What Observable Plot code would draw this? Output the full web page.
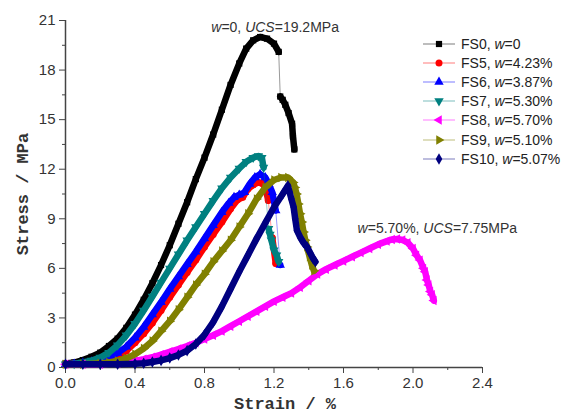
<!DOCTYPE html>
<html><head><meta charset="utf-8">
<script src="https://cdn.jsdelivr.net/npm/d3@7"></script>
<script src="https://cdn.jsdelivr.net/npm/@observablehq/plot@0.6"></script>
<style>
html,body{margin:0;padding:0;background:#fff;}
#wrap{position:relative;width:568px;height:414px;overflow:hidden;}
#legend{position:absolute;left:423px;top:34px;font:14px "Liberation Sans",Arial,sans-serif;color:#222;}
.row{display:flex;align-items:center;height:19.2px;white-space:nowrap;}
.row svg{margin-right:4px;display:block;}
g[aria-label="x-axis label"] text, g[aria-label="y-axis label"] text{font-family:"Liberation Mono","Courier New",monospace;font-weight:bold;font-size:17px;fill:#333;}
</style></head><body><div id="wrap"><div id="legend"></div></div>
<script>
// ---- data ----
const seriesNames = ["FS0","FS5","FS6","FS7","FS8","FS9","FS10"];
const waterContents = ["0","4.23%","3.87%","5.30%","5.70%","5.10%","5.07%"];

const fs0Strain = [0,0.05,0.1,0.15,0.2,0.25,0.3,0.35,0.4,0.45,0.5,0.55,0.6,0.65,0.7,0.75,0.8,0.85,0.9,0.95,1.0,1.04,1.08,1.12,1.16,1.2,1.227,1.236,1.25,1.265,1.284,1.304,1.309,1.317];
const fs0Stress = [0.25,0.3,0.45,0.65,0.9,1.3,1.75,2.4,3.2,4.1,5.1,6.2,7.4,8.7,10.0,11.4,12.7,14.1,15.6,17.1,18.4,19.3,19.8,20.0,19.9,19.6,19.1,16.4,16.2,15.9,15.4,14.75,14.0,13.2];

const fs5Strain = [0,0.05,0.1,0.15,0.2,0.25,0.3,0.35,0.4,0.45,0.5,0.55,0.6,0.65,0.7,0.75,0.8,0.85,0.9,0.95,0.99,1.02,1.05,1.08,1.11,1.13,1.15,1.167,1.19,1.21];
const fs5Stress = [0.2,0.22,0.25,0.3,0.38,0.5,0.7,1.0,1.5,2.05,2.7,3.45,4.25,5.0,5.75,6.5,7.3,8.05,8.8,9.6,10.15,10.3,10.8,11.05,11.2,11.15,10.9,10.1,7.85,6.3];

const fs6Strain = [0,0.05,0.1,0.15,0.2,0.25,0.3,0.35,0.4,0.45,0.5,0.55,0.6,0.65,0.7,0.75,0.8,0.85,0.9,0.94,0.97,1.0,1.03,1.06,1.09,1.12,1.15,1.17,1.19,1.21,1.236];
const fs6Stress = [0.2,0.22,0.27,0.35,0.48,0.65,0.88,1.25,1.8,2.45,3.2,3.95,4.75,5.5,6.25,7.0,7.8,8.6,9.4,9.95,10.3,10.45,10.6,11.1,11.5,11.7,11.5,11.1,10.6,9.5,6.2];

const fs7Strain = [0,0.05,0.1,0.15,0.2,0.25,0.3,0.35,0.4,0.45,0.5,0.55,0.6,0.65,0.7,0.75,0.8,0.85,0.9,0.95,1.0,1.04,1.08,1.11,1.13,1.14,1.169,1.177,1.185,1.2,1.215,1.227];
const fs7Stress = [0.2,0.22,0.3,0.42,0.6,0.9,1.35,1.95,2.65,3.45,4.3,5.15,6.0,6.85,7.7,8.5,9.3,10.1,10.85,11.5,12.05,12.45,12.7,12.8,12.7,12.1,8.4,8.05,7.7,7.1,6.8,6.4];

const fs8Strain = [0,0.1,0.2,0.3,0.35,0.4,0.45,0.5,0.55,0.6,0.65,0.7,0.75,0.8,0.85,0.9,0.95,1.0,1.05,1.1,1.15,1.2,1.25,1.3,1.35,1.4,1.45,1.5,1.55,1.6,1.65,1.7,1.75,1.8,1.85,1.88,1.91,1.94,1.97,2.0,2.02,2.04,2.06,2.07,2.08,2.09,2.1,2.11,2.12];
const fs8Stress = [0.2,0.2,0.2,0.25,0.3,0.4,0.5,0.62,0.78,0.95,1.12,1.3,1.5,1.72,1.95,2.2,2.5,2.8,3.1,3.4,3.7,4.0,4.25,4.5,4.85,5.25,5.65,5.95,6.2,6.45,6.7,6.95,7.2,7.45,7.65,7.75,7.78,7.72,7.55,7.2,6.8,6.5,6.0,5.8,5.3,5.0,4.6,4.4,4.05];

const fs9Strain = [0,0.1,0.2,0.25,0.3,0.35,0.4,0.45,0.5,0.55,0.6,0.65,0.7,0.75,0.8,0.85,0.9,0.95,1.0,1.05,1.1,1.15,1.2,1.24,1.28,1.31,1.32,1.33,1.34,1.35,1.36,1.37,1.38,1.39,1.405,1.418,1.43];
const fs9Stress = [0.2,0.2,0.25,0.3,0.4,0.55,0.8,1.15,1.6,2.2,2.8,3.5,4.25,5.0,5.65,6.4,7.05,7.7,8.5,9.3,10.2,10.9,11.35,11.5,11.5,11.2,10.9,10.5,9.9,9.3,8.8,8.2,7.7,7.3,6.7,6.2,5.85];

const fs10Strain = [0,0.1,0.2,0.3,0.4,0.45,0.5,0.55,0.6,0.65,0.7,0.75,0.8,0.85,0.9,0.95,1.0,1.05,1.1,1.15,1.2,1.25,1.28,1.29,1.3,1.313,1.322,1.332,1.35,1.37,1.39,1.41,1.425,1.438];
const fs10Stress = [0.2,0.2,0.2,0.2,0.22,0.26,0.33,0.43,0.57,0.76,1.02,1.42,1.98,2.75,3.7,4.75,5.8,6.8,7.8,8.75,9.7,10.5,11.0,10.6,10.2,9.7,9.0,8.3,7.9,7.55,7.3,6.9,6.6,6.4];

const annotatedSeries = ["FS0","FS8"];
const annotatedUCS = ["19.2","7.75"];

const xTicks = [0,0.4,0.8,1.2,1.6,2.0,2.4];
const xMinorTicks = [0.2,0.6,1.0,1.4,1.8,2.2];
const yTicks = [0,3,6,9,12,15,18,21];
const yMinorTicks = [1.5,4.5,7.5,10.5,13.5,16.5,19.5];

// ---- styling ----
const colors = ["#000000","#ff0000","#0000ff","#008080","#ff00ff","#808000","#000080"];
const sqrt3 = Math.sqrt(3);
const triDown = {draw(c, s){const y=-Math.sqrt(s/(sqrt3*3)); c.moveTo(0,-2*y); c.lineTo(-sqrt3*y,y); c.lineTo(sqrt3*y,y); c.closePath();}};
const triLeft = {draw(c, s){const y=-Math.sqrt(s/(sqrt3*3)); c.moveTo(2*y,0); c.lineTo(-y,-sqrt3*y); c.lineTo(-y,sqrt3*y); c.closePath();}};
const triRight = {draw(c, s){const y=-Math.sqrt(s/(sqrt3*3)); c.moveTo(-2*y,0); c.lineTo(y,-sqrt3*y); c.lineTo(y,sqrt3*y); c.closePath();}};
const symbols = [d3.symbolSquare, d3.symbolCircle, d3.symbolTriangle, triDown, triLeft, triRight, d3.symbolDiamond];

const W = 568, H = 414, ML = 65, MR = 86, MT = 20, MB = 47;
const strains = [fs0Strain,fs5Strain,fs6Strain,fs7Strain,fs8Strain,fs9Strain,fs10Strain];
const stresses = [fs0Stress,fs5Stress,fs6Stress,fs7Stress,fs8Stress,fs9Stress,fs10Stress];

const series = seriesNames.map((name, i) => ({
  name, color: colors[i], symbol: symbols[i],
  rows: strains[i].map((x, j) => ({x, y: stresses[i][j]}))
}));

// band (overlapping markers look): break where neighbouring points jump far apart on screen
const kx = (W-ML-MR)/2.4, ky = (H-MT-MB)/21;
function bandRows(rows){
  const out = [];
  rows.forEach((r, j) => {
    if (j > 0) {
      const p = rows[j-1];
      const d = Math.hypot((r.x-p.x)*kx, (r.y-p.y)*ky);
      if (d > 33) out.push({x: (r.x+p.x)/2, y: NaN});
    }
    out.push(r);
  });
  return out;
}

const marks = [
  Plot.ruleX([0], {stroke:"#444", strokeWidth:1.5}),
  Plot.ruleY([0], {stroke:"#444", strokeWidth:1.5}),
  Plot.axisX(xTicks, {tickSize:6, tickPadding:4, tickFormat:d3.format(".1f"), label:"Strain / %", labelAnchor:"center", labelOffset:41, labelArrow:"none", fill:"#333", stroke:"#444"}),
  Plot.axisX(xMinorTicks, {tickSize:3, tickFormat:() => "", label:null, stroke:"#444"}),
  Plot.axisY(yTicks, {tickSize:6, tickPadding:4, tickFormat:d => String(d), label:"Stress / MPa", labelAnchor:"center", labelOffset:50, labelArrow:"none", fill:"#333", stroke:"#444"}),
  Plot.axisY(yMinorTicks, {tickSize:3, tickFormat:() => "", label:null, stroke:"#444"})
];
series.forEach(s => {
  marks.push(Plot.line(s.rows, {x:"x", y:"y", stroke:s.color, strokeWidth:1, strokeOpacity:0.4}));
  marks.push(Plot.line(bandRows(s.rows), {x:"x", y:"y", stroke:s.color, strokeWidth:6.5, strokeLinejoin:"round", strokeLinecap:"round"}));
  marks.push(Plot.dot(s.rows, {x:"x", y:"y", symbol:s.symbol, fill:s.color, r:3.5}));
});
const ann = annotatedSeries.map((n, k) => {
  const i = seriesNames.indexOf(n);
  const top = series[i].rows.reduce((a, b) => (b.y > a.y ? b : a));
  return {x: top.x, y: top.y, text: `*w*=${waterContents[i]}, *UCS*=${annotatedUCS[k]}MPa`, k};
});
marks.push(Plot.text(ann.filter(a => a.k === 0), {x:"x", y:"y", text:"text", dx:15, dy:-10, fontSize:14, fill:"#333", className:"ann"}));
marks.push(Plot.text(ann.filter(a => a.k === 1), {x:"x", y:"y", text:"text", dx:40, dy:-10, fontSize:14, fill:"#333", className:"ann"}));

const svg = Plot.plot({
  width: W, height: H, marginLeft: ML, marginRight: MR, marginTop: MT, marginBottom: MB,
  x: {domain: [0, 2.4]}, y: {domain: [0, 21]},
  style: {fontFamily: '"Liberation Sans", Arial, sans-serif', fontSize: "15px", color: "#333", background: "white", overflow: "visible"},
  marks
});
document.getElementById("wrap").prepend(svg);
d3.select(svg).selectAll('g[aria-label="x-axis label"] text').attr("dx", 11);

// italic parts of the annotations
d3.select(svg).selectAll("g.ann text").each(function(){
  const parts = this.textContent.split("*");
  this.textContent = "";
  parts.forEach((p, j) => { if (p) { const t = d3.select(this).append("tspan").text(p); if (j % 2) t.attr("font-style", "italic"); } });
});

// legend
const legend = d3.select("#legend");
series.forEach((s, i) => {
  const row = legend.append("div").attr("class", "row");
  const g = row.append("svg").attr("width", 34).attr("height", 14);
  g.append("line").attr("x1", 0).attr("x2", 32).attr("y1", 7).attr("y2", 7).attr("stroke", s.color).attr("stroke-opacity", 0.35).attr("stroke-width", 1.5);
  g.append("path").attr("transform", "translate(16,7)").attr("d", d3.symbol(s.symbol, Math.PI*3.5*3.5)()).attr("fill", s.color);
  const t = row.append("span");
  t.append("span").text(`${s.name}, `);
  t.append("i").text("w");
  t.append("span").text(`=${waterContents[i]}`);
});
</script></body></html>
